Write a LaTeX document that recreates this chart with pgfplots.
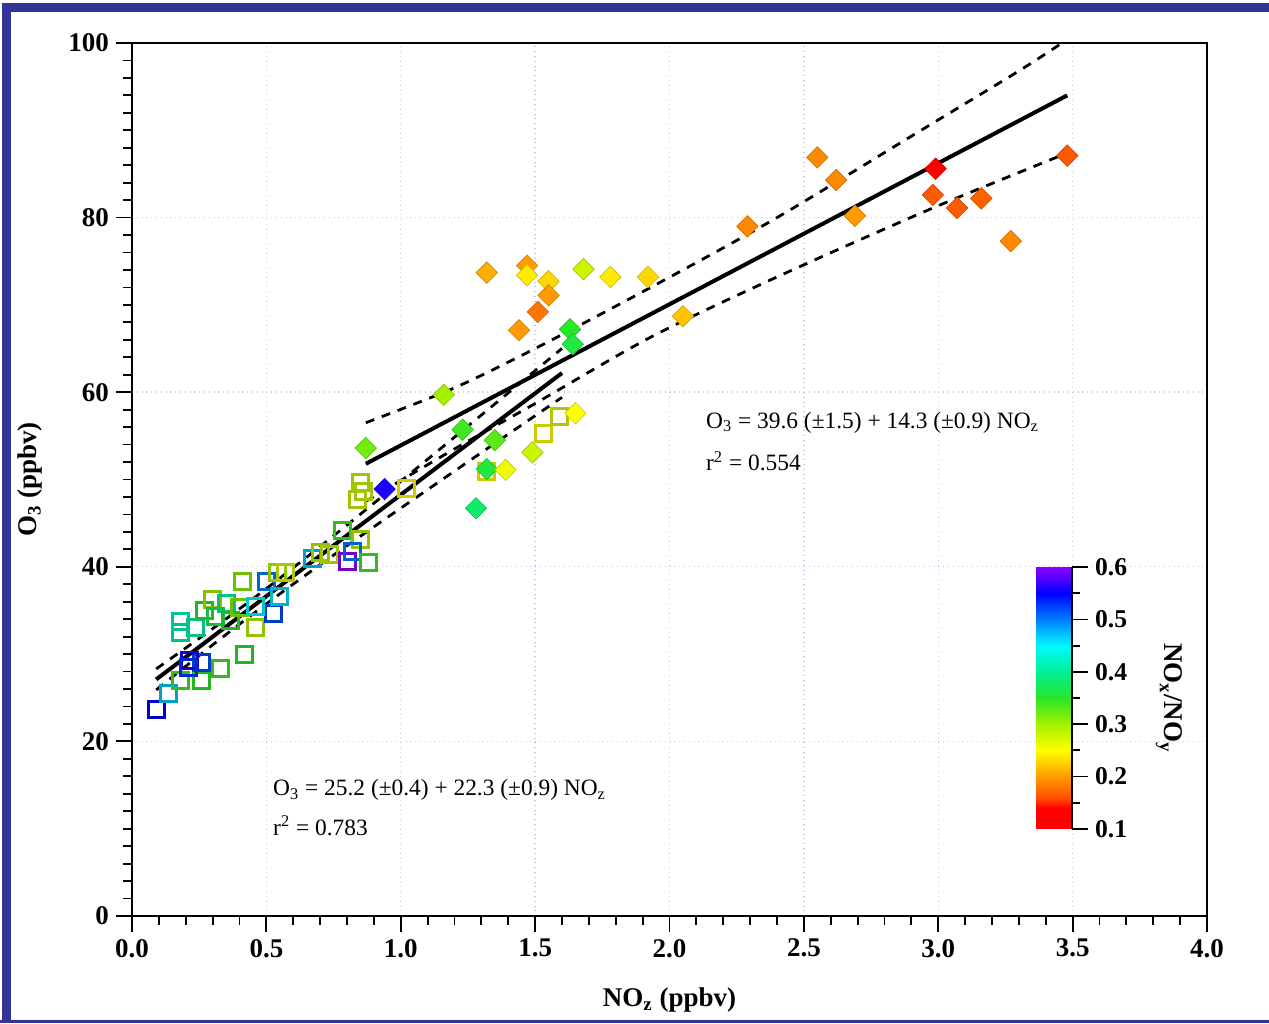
\documentclass[border=0pt]{standalone}
\usepackage{fontspec}
\setmainfont{Liberation Serif}
\usepackage{pgfplots}
\usepackage{pgfplotstable}
\pgfplotsset{compat=1.18}
\definecolor{framec}{RGB}{52,52,150}
\definecolor{gridc}{RGB}{196,196,236}

% open squares: x, O3, NOx/NOy
\pgfplotstableread{
x y c
0.09 23.7 0.55
0.134 25.5 0.47
0.18 27.0 0.34
0.26 27.0 0.35
0.33 28.3 0.34
0.26 29.0 0.52
0.215 29.3 0.56
0.21 28.5 0.53
0.42 29.9 0.35
0.18 32.5 0.41
0.18 33.7 0.42
0.235 33.0 0.41
0.27 35.0 0.35
0.30 36.2 0.30
0.35 35.8 0.41
0.31 34.3 0.37
0.365 33.9 0.35
0.40 35.3 0.31
0.46 33.1 0.29
0.41 38.3 0.31
0.50 38.3 0.50
0.525 34.7 0.52
0.55 36.6 0.46
0.46 35.4 0.45
0.54 39.3 0.29
0.57 39.3 0.27
0.67 41.0 0.47
0.70 41.6 0.29
0.735 41.4 0.28
0.785 44.2 0.34
0.85 43.1 0.29
0.80 40.6 0.60
0.82 41.7 0.50
0.88 40.5 0.34
0.84 47.7 0.28
0.85 49.6 0.28
0.86 48.6 0.28
1.02 49.0 0.25
1.32 50.9 0.25
1.53 55.3 0.25
1.59 57.2 0.27
}\squares

% filled diamonds
\pgfplotstableread{
x y c
3.48 87.1 0.165
2.99 85.6 0.10
2.98 82.6 0.165
3.07 81.1 0.165
3.16 82.2 0.17
3.27 77.3 0.19
2.55 86.9 0.19
2.62 84.3 0.19
2.69 80.2 0.20
2.29 79.0 0.19
2.05 68.7 0.22
1.92 73.2 0.23
1.78 73.2 0.24
1.68 74.1 0.28
1.32 73.7 0.21
1.47 74.5 0.20
1.47 73.4 0.24
1.55 72.7 0.23
1.55 71.1 0.20
1.51 69.2 0.18
1.44 67.1 0.20
1.63 67.2 0.35
1.64 65.5 0.36
1.16 59.7 0.30
1.23 55.7 0.34
1.35 54.5 0.33
0.87 53.6 0.32
0.94 48.9 0.56
1.32 51.2 0.36
1.39 51.1 0.26
1.49 53.1 0.28
1.28 46.7 0.38
1.65 57.6 0.25
}\diamonds

\begin{document}
\begin{tikzpicture}
\path[use as bounding box] (0,0) rectangle (634.5pt,511.5pt);
\fill[white] (0,0) rectangle (634.5pt,511.5pt);
\draw[framec, line width=4.5pt] (634.5pt,507.75pt) -- (3.25pt,507.75pt) -- (3.25pt,0pt);
\draw[framec, line width=1.6pt] (0pt,0.8pt) -- (634.5pt,0.8pt);

\begin{axis}[
  at={(66pt,53.5pt)}, anchor=south west,
  scale only axis, width=537.5pt, height=436.5pt,
  xmin=0, xmax=4, ymin=0, ymax=100,
  xtick={0,0.5,1,1.5,2,2.5,3,3.5,4},
  ytick={0,20,40,60,80,100},
  minor x tick num=4, minor y tick num=9,
  tick align=outside, xtick pos=bottom, ytick pos=left,
  major tick length=8pt, minor tick length=4.5pt,
  every tick/.style={black, line width=0.9pt},
  axis line style={line width=1pt},
  grid=major,
  major grid style={gridc, dotted, line width=0.7pt},
  /pgf/number format/assume math mode=true,
  ticklabel style={font=\fontsize{13.5}{16}\selectfont\bfseries},
  xticklabel style={/pgf/number format/.cd, fixed, fixed zerofill, precision=1},
  yticklabel style={/pgf/number format/fixed},
  xlabel={NO\textsubscript{z} (ppbv)},
  ylabel={O\textsubscript{3} (ppbv)},
  label style={font=\fontsize{13.5}{16}\selectfont\bfseries},
  xlabel style={at={(axis description cs:0.5,-0.096)}, anchor=center},
  ylabel style={at={(axis description cs:-0.095,0.5)}, anchor=center},
  colormap={nox}{rgb255(0cm)=(255,0,0); rgb255(4cm)=(255,0,0); rgb255(6cm)=(255,80,0); rgb255(10cm)=(255,155,0); rgb255(15cm)=(255,255,0); rgb255(20cm)=(165,240,0); rgb255(25cm)=(40,230,40); rgb255(30cm)=(0,240,150); rgb255(35cm)=(0,250,255); rgb255(40cm)=(0,125,255); rgb255(45cm)=(0,0,255); rgb255(50cm)=(140,0,255)},
  point meta min=0.1, point meta max=0.6,
  colorbar,
  colorbar/width=18pt,
  colorbar style={
    at={(parent axis.south west)}, anchor=south west,
    xshift=443.5pt, yshift=43.5pt,
    scale only axis, width=18pt, height=131pt,
    ytick={0.1,0.2,0.3,0.4,0.5,0.6},
    minor y tick num=1,
    tick align=outside,
    major tick length=8pt, minor tick length=4pt,
    every tick/.style={black, line width=0.9pt},
    axis x line=none, axis y line*=right,
    axis line style={line width=1pt},
    /pgf/number format/assume math mode=true,
    yticklabel style={font=\fontsize{12.8}{15}\selectfont\bfseries,
      /pgf/number format/.cd, fixed, fixed zerofill, precision=1},
    ylabel={NO\textsubscript{x}/NO\textsubscript{y}},
    ylabel style={font=\fontsize{13.5}{16}\selectfont\bfseries,
      at={(axis description cs:3.69,0.5)}, anchor=center, rotate=180},
  },
]
\addplot[scatter, only marks, scatter src=explicit, mark=square, mark size=4pt,
  mark options={line width=1.5pt}] table[x=x, y=y, meta=c] {\squares};
\addplot[scatter, only marks, scatter src=explicit, mark=square*, mark size=3.8pt,
  mark options={rotate=45, line width=0.3pt}] table[x=x, y=y, meta=c] {\diamonds};

% regression for squares
\addplot[black, line width=2pt] coordinates {(0.09,27.1) (1.6,62.2)};
\addplot[black, line width=1.4pt, dash pattern=on 4.5pt off 4pt, smooth] coordinates {
  (0.09,28.30) (0.3,32.91) (0.5,37.50) (0.7,42.32) (0.9,47.28) (1.1,52.32) (1.3,57.38) (1.6,65.01)};
\addplot[black, line width=1.4pt, dash pattern=on 4.5pt off 4pt, smooth] coordinates {
  (0.09,25.90) (0.3,31.05) (0.5,35.76) (0.7,40.24) (0.9,44.58) (1.1,48.84) (1.3,53.08) (1.6,59.41)};

% regression for diamonds
\addplot[black, line width=2pt] coordinates {(0.87,51.8) (3.48,94.0)};
\addplot[black, line width=1.4pt, dash pattern=on 4.5pt off 4pt, smooth] coordinates {
  (0.87,56.5) (1.2,60.5) (1.5,65.0) (1.93,72.0) (2.4,80.0) (2.92,89.7) (3.3,96.8) (3.48,100.4)};
\addplot[black, line width=1.4pt, dash pattern=on 4.5pt off 4pt, smooth] coordinates {
  (0.87,47.5) (1.2,53.5) (1.5,58.7) (1.93,66.3) (2.4,73.2) (2.98,81.1) (3.48,87.4)};

\node[anchor=west, inner sep=0pt, font=\fontsize{11.7}{14}\selectfont] at (axis cs:2.135,56.5)
  {O\textsubscript{3} = 39.6 (±1.5) + 14.3 (±0.9) NO\textsubscript{z}};
\node[anchor=west, inner sep=0pt, font=\fontsize{11.7}{14}\selectfont] at (axis cs:2.135,52.1)
  {r\textsuperscript{2} = 0.554};
\node[anchor=west, inner sep=0pt, font=\fontsize{11.7}{14}\selectfont] at (axis cs:0.524,14.4)
  {O\textsubscript{3} = 25.2 (±0.4) + 22.3 (±0.9) NO\textsubscript{z}};
\node[anchor=west, inner sep=0pt, font=\fontsize{11.7}{14}\selectfont] at (axis cs:0.524,10.3)
  {r\textsuperscript{2} = 0.783};
\end{axis}
\end{tikzpicture}
\end{document}
